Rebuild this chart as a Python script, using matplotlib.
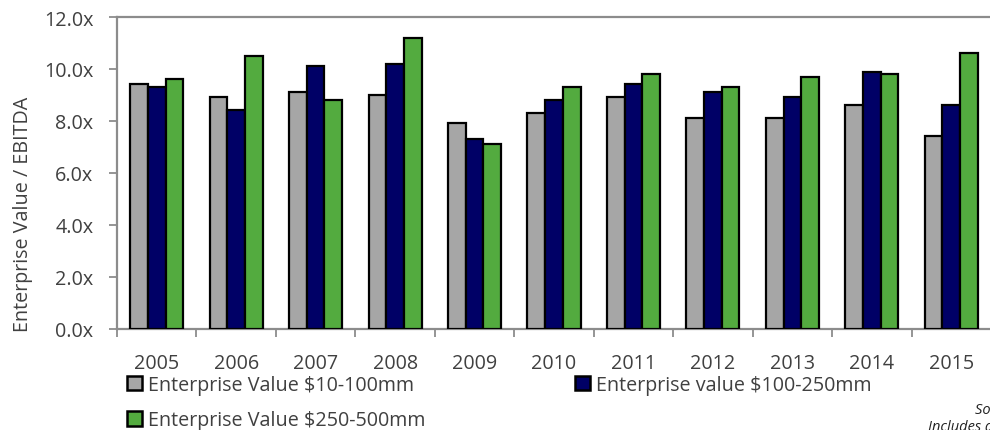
import matplotlib
matplotlib.use("Agg")
import matplotlib.pyplot as plt
import numpy as np
from matplotlib.patches import Patch

plt.rcParams['font.family'] = ['Open Sans', 'DejaVu Sans']

years = ["2005", "2006", "2007", "2008", "2009", "2010",
         "2011", "2012", "2013", "2014", "2015"]
ev_10_100 = [9.4, 8.9, 9.1, 9.0, 7.9, 8.3, 8.9, 8.1, 8.1, 8.6, 7.4]
ev_100_250 = [9.3, 8.4, 10.1, 10.2, 7.3, 8.8, 9.4, 9.1, 8.9, 9.9, 8.6]
ev_250_500 = [9.6, 10.5, 8.8, 11.2, 7.1, 9.3, 9.8, 9.3, 9.7, 9.8, 10.6]
series_labels = ["Enterprise Value $10-100mm",
                 "Enterprise value $100-250mm",
                 "Enterprise Value $250-500mm"]
y_ticks = [0, 2, 4, 6, 8, 10, 12]

colors = ["#A6A6A6", "#000066", "#53AB3F"]
text_color = "#404040"
spine_color = "#8C8C8C"
fs = 14.2

W, H = 990, 431
fig = plt.figure(figsize=(W / 100, H / 100), dpi=100)
ax = fig.add_axes([117 / W, 1 - 329.5 / H, (991 - 117) / W, (329.5 - 18) / H])

x = np.arange(len(years))
bw = 0.223
for i, (vals, c) in enumerate(zip([ev_10_100, ev_100_250, ev_250_500], colors)):
    ax.bar(x + (i - 1) * bw, vals, width=bw, color=c, edgecolor="black",
           linewidth=1.6, zorder=3)

ax.set_xlim(-0.5, len(years) - 0.5)
ax.set_ylim(0, 12)
ax.set_yticks(y_ticks)
ax.set_yticklabels([f"{v:.1f}x" for v in y_ticks], fontsize=fs, color=text_color)
ax.set_xticks(x)
ax.set_xticklabels(years, fontsize=fs, color=text_color)
ax.set_xticks(np.arange(-0.5, len(years), 1.0), minor=True)
ax.tick_params(axis="x", which="major", length=0, pad=18)
ax.tick_params(axis="x", which="minor", length=6, width=1.3, color=spine_color,
               direction="out")
ax.tick_params(axis="y", length=6, width=1.3, color=spine_color, pad=11)

for s in ax.spines.values():
    s.set_color(spine_color)
    s.set_linewidth(1.6)

ax.set_ylabel("Enterprise Value / EBITDA", fontsize=fs, color=text_color)
ax.yaxis.set_label_coords(-84 / (991 - 117), 0.37)

handles = [Patch(facecolor=c, edgecolor="black", linewidth=1.8) for c in colors]
order = [0, 2, 1]
leg = fig.legend([handles[i] for i in order], [series_labels[i] for i in order],
                 ncol=2, loc="upper left", bbox_to_anchor=(127 / W, 1 - 376 / H),
                 frameon=False, fontsize=fs, handlelength=0.75, handleheight=0.75,
                 handletextpad=0.3, columnspacing=7.6, labelspacing=0.78,
                 borderpad=0, borderaxespad=0)
for t in leg.get_texts():
    t.set_color(text_color)

fig.text(975 / W, 1 - 411 / H, "Source: GF Data", fontsize=10.5, style="italic",
         color="#222222", ha="left", va="center")
fig.text(928 / W, 1 - 428 / H, "Includes add-on acquisitions", fontsize=10.5,
         style="italic", color="#222222", ha="left", va="center")

fig.savefig("out.png", dpi=100)
